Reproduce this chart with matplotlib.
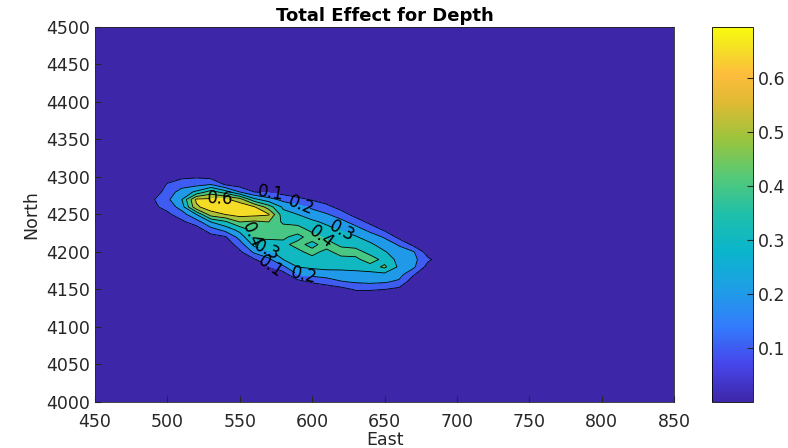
import numpy as np
import matplotlib
matplotlib.use("Agg")
import matplotlib.pyplot as plt
from matplotlib.colors import LinearSegmentedColormap, Normalize
from matplotlib.cm import ScalarMappable
from matplotlib.ticker import FormatStrFormatter

# grid of the total effect (East x North)
east = [480, 490, 500, 510, 520, 530, 540, 550, 560, 570, 580,
        590, 600, 610, 620, 630, 640, 650, 660, 670, 680, 690]
north = [4140, 4150, 4160, 4170, 4180, 4190, 4200, 4210, 4220,
         4230, 4240, 4250, 4260, 4270, 4280, 4290, 4300, 4310]

# one list per East column, values from north=4140 up to 4310
effect_cols = [
    [0, 0, 0, 0, 0, 0, 0, 0, 0, 0, 0, 0, 0, 0, 0, 0, 0, 0],
    [0, 0, 0, 0, 0, 0, 0, 0, 0, 0, 0, 0, 0.08, 0.09, 0.03, 0, 0, 0],
    [0, 0, 0, 0, 0, 0, 0, 0, 0, 0, 0.02, 0.08, 0.13, 0.18, 0.15, 0.11, 0.05, 0],
    [0, 0, 0, 0, 0, 0, 0, 0, 0, 0.02, 0.08, 0.15, 0.25, 0.30, 0.24, 0.16, 0.08, 0.02],
    [0, 0, 0, 0, 0, 0, 0, 0, 0, 0.05, 0.15, 0.30, 0.58, 0.62, 0.32, 0.17, 0.09, 0.03],
    [0, 0, 0, 0, 0, 0, 0, 0, 0.06, 0.16, 0.30, 0.55, 0.66, 0.62, 0.45, 0.20, 0.07, 0.02],
    [0, 0, 0, 0, 0, 0, 0, 0.03, 0.09, 0.24, 0.38, 0.60, 0.69, 0.62, 0.35, 0.09, 0.04, 0],
    [0, 0, 0, 0, 0, 0.02, 0.08, 0.15, 0.24, 0.34, 0.50, 0.64, 0.67, 0.55, 0.20, 0.05, 0, 0],
    [0, 0, 0, 0, 0.03, 0.09, 0.22, 0.33, 0.42, 0.44, 0.48, 0.63, 0.61, 0.33, 0.10, 0.03, 0, 0],
    [0, 0, 0, 0.02, 0.08, 0.18, 0.28, 0.38, 0.41, 0.42, 0.50, 0.61, 0.45, 0.24, 0.08, 0, 0, 0],
    [0, 0, 0, 0.05, 0.18, 0.30, 0.35, 0.37, 0.42, 0.45, 0.38, 0.34, 0.28, 0.17, 0.06, 0, 0, 0],
    [0, 0, 0.06, 0.20, 0.30, 0.35, 0.37, 0.44, 0.36, 0.46, 0.35, 0.30, 0.23, 0.13, 0.03, 0, 0, 0],
    [0, 0.03, 0.11, 0.23, 0.32, 0.36, 0.44, 0.36, 0.46, 0.36, 0.32, 0.25, 0.18, 0.09, 0.01, 0, 0, 0],
    [0, 0.04, 0.14, 0.25, 0.33, 0.38, 0.36, 0.46, 0.37, 0.33, 0.28, 0.21, 0.13, 0.05, 0, 0, 0, 0],
    [0, 0.06, 0.19, 0.27, 0.32, 0.35, 0.46, 0.37, 0.35, 0.29, 0.23, 0.15, 0.06, 0, 0, 0, 0, 0],
    [0.03, 0.11, 0.21, 0.27, 0.33, 0.37, 0.45, 0.35, 0.31, 0.24, 0.16, 0.06, 0, 0, 0, 0, 0, 0],
    [0.03, 0.11, 0.22, 0.27, 0.35, 0.46, 0.36, 0.32, 0.25, 0.17, 0.07, 0, 0, 0, 0, 0, 0, 0],
    [0.02, 0.10, 0.21, 0.27, 0.42, 0.36, 0.31, 0.25, 0.19, 0.08, 0, 0, 0, 0, 0, 0, 0, 0],
    [0, 0.07, 0.18, 0.24, 0.28, 0.27, 0.24, 0.19, 0.07, 0, 0, 0, 0, 0, 0, 0, 0, 0],
    [0, 0, 0.03, 0.11, 0.22, 0.23, 0.21, 0.07, 0, 0, 0, 0, 0, 0, 0, 0, 0, 0],
    [0, 0, 0, 0.01, 0.06, 0.12, 0.05, 0, 0, 0, 0, 0, 0, 0, 0, 0, 0, 0],
    [0, 0, 0, 0, 0, 0.04, 0, 0, 0, 0, 0, 0, 0, 0, 0, 0, 0, 0],
]

levels = [0.1, 0.2, 0.3, 0.4, 0.5, 0.6]
cmin, cmax = 0.0, 0.695
xticks = list(range(450, 851, 50))
yticks = list(range(4000, 4501, 50))
cbar_ticks = [0.1, 0.2, 0.3, 0.4, 0.5, 0.6]

# roughly MATLAB's parula
parula = LinearSegmentedColormap.from_list("parula", [
    (0.00, (0.2422, 0.1504, 0.6603)),
    (0.10, (0.2770, 0.2740, 0.9200)),
    (0.20, (0.2000, 0.4850, 0.9900)),
    (0.30, (0.1200, 0.6200, 0.9000)),
    (0.40, (0.0400, 0.7100, 0.8000)),
    (0.50, (0.1200, 0.7500, 0.6700)),
    (0.60, (0.3300, 0.7900, 0.4700)),
    (0.70, (0.6000, 0.7700, 0.2400)),
    (0.80, (0.8800, 0.7300, 0.2000)),
    (0.875, (0.9930, 0.7400, 0.2400)),
    (0.94, (0.9600, 0.8700, 0.1500)),
    (1.00, (0.9763, 0.9831, 0.0538)),
])
norm = Normalize(cmin, cmax)

X, Y = np.meshgrid(east, north)
Z = np.array(effect_cols).T

plt.rcParams['font.family'] = 'DejaVu Sans'
fig = plt.figure(figsize=(7.88, 4.48), dpi=100)
ax = fig.add_axes([0.1206, 0.1027, 0.7348, 0.8371])
ax.set_facecolor(parula(0.0))

# bands take the colour of their lower level, the top band a bit lighter
fill_levels = levels + [cmax + 0.01]
band_colors = [parula(norm(l)) for l in levels[:-1]] + [parula(norm(0.65))]
ax.contourf(X, Y, Z, levels=fill_levels, colors=band_colors)
cs = ax.contour(X, Y, Z, levels=levels, colors='k', linewidths=0.6)
label_spots = [(571, 4278), (592, 4260), (620, 4227), (605, 4218), (536, 4263),
               (556, 4222), (568, 4200), (571, 4181), (594, 4169)]
ax.clabel(cs, manual=label_spots, fmt='%.1f', fontsize=12, inline=True)

ax.set_xlim(450, 850)
ax.set_ylim(4000, 4500)
ax.set_xticks(xticks)
ax.set_yticks(yticks)
ax.tick_params(direction='in', length=4, labelsize=12.5, colors='#262626')
ax.tick_params(axis='x', pad=8)
for s in ax.spines.values():
    s.set_color('#262626')
    s.set_linewidth(0.6)
ax.set_xlabel('East', fontsize=12.5, color='#262626', labelpad=0)
ax.set_ylabel('North', fontsize=12.5, color='#262626', labelpad=4)
ax.set_title('Total Effect for Depth', fontsize=13, fontweight='bold', pad=4)

cax = fig.add_axes([0.9036, 0.1027, 0.052, 0.8371])
sm = ScalarMappable(norm=norm, cmap=parula)
cb = fig.colorbar(sm, cax=cax, ticks=cbar_ticks)
cb.ax.tick_params(direction='in', length=4, labelsize=12.5, colors='#262626')
cb.outline.set_linewidth(0.6)
cb.ax.yaxis.set_major_formatter(FormatStrFormatter('%.1f'))

fig.savefig('out.png', dpi=100)
